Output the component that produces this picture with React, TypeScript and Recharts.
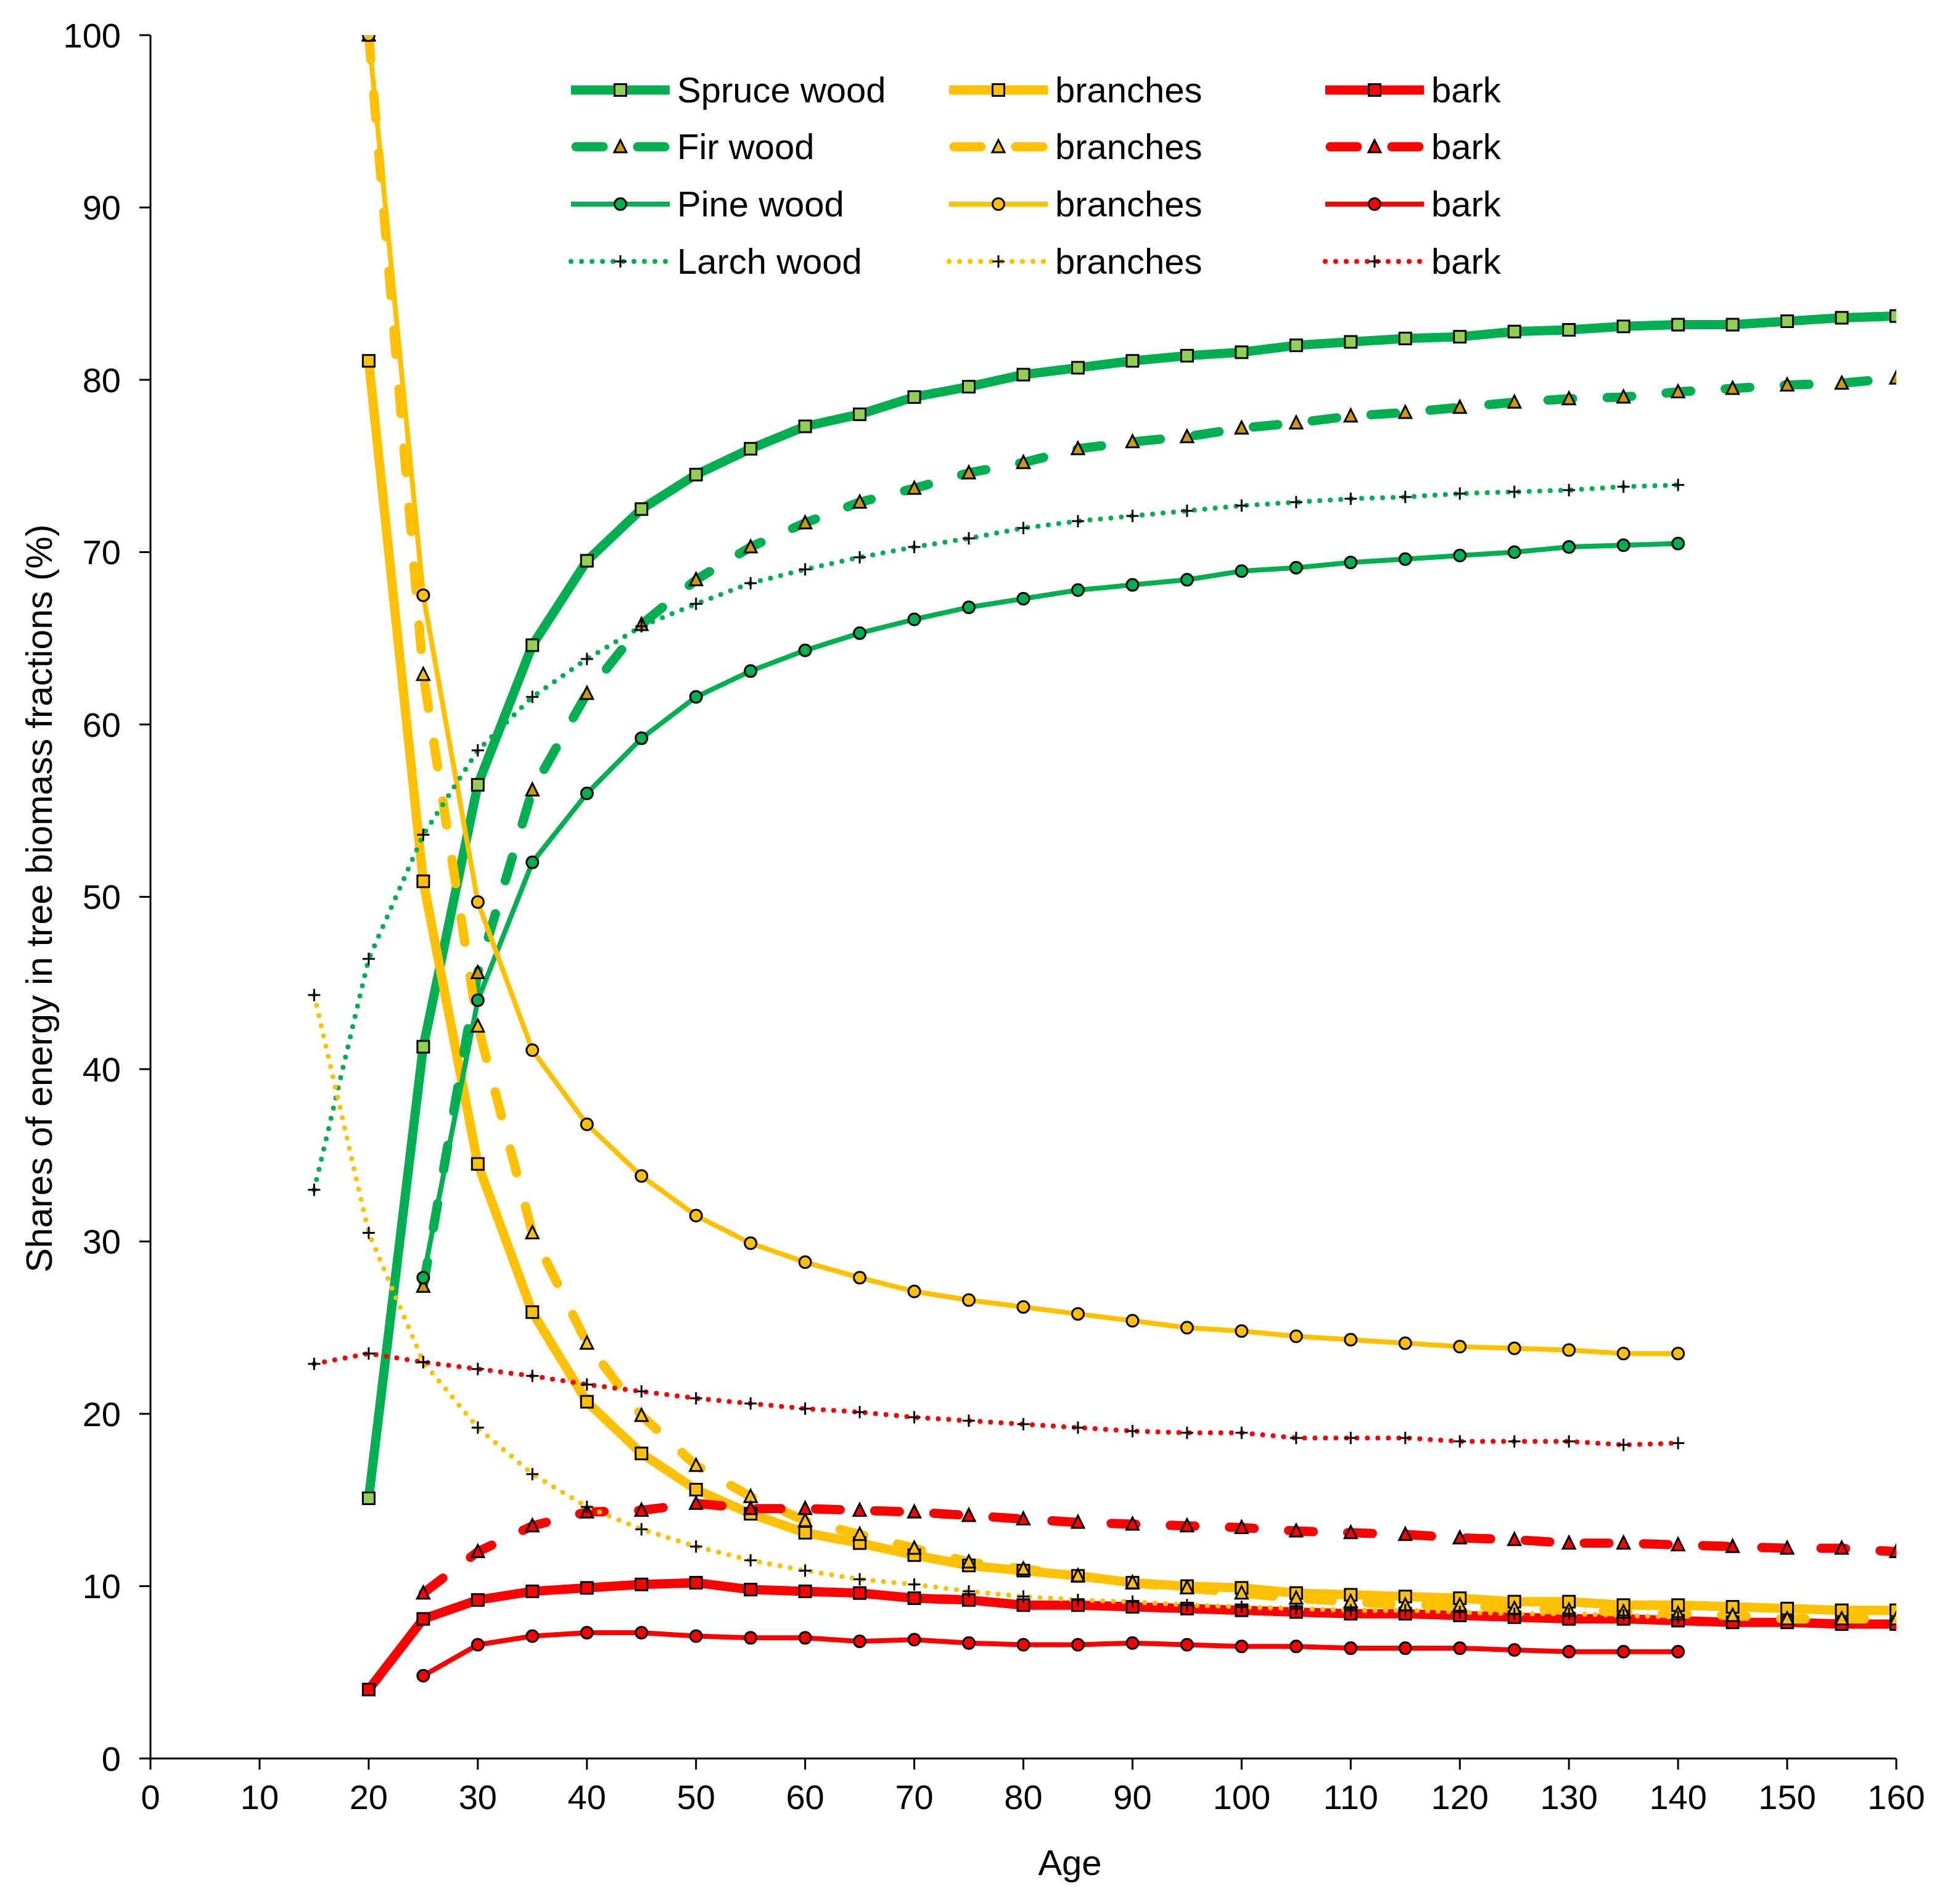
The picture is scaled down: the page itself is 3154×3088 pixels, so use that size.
import React from "react";
import { LineChart, Line, XAxis, YAxis, Legend } from "recharts";

// ages on the x axis (every 5 years)
const ages = [15, 20, 25, 30, 35, 40, 45, 50, 55, 60, 65, 70, 75, 80, 85, 90, 95, 100, 105, 110, 115, 120, 125, 130, 135, 140, 145, 150, 155, 160];
const xTicks = [0, 10, 20, 30, 40, 50, 60, 70, 80, 90, 100, 110, 120, 130, 140, 150, 160];
const yTicks = [0, 10, 20, 30, 40, 50, 60, 70, 80, 90, 100];

// wood (%), first value at the start age
const spruceWood = [15.1, 41.3, 56.5, 64.6, 69.5, 72.5, 74.5, 76.0, 77.3, 78.0, 79.0, 79.6, 80.3, 80.7, 81.1, 81.4, 81.6, 82.0, 82.2, 82.4, 82.5, 82.8, 82.9, 83.1, 83.2, 83.2, 83.4, 83.6, 83.7];
const firWood = [27.4, 45.6, 56.2, 61.8, 65.8, 68.4, 70.3, 71.7, 72.9, 73.7, 74.6, 75.2, 76.0, 76.4, 76.7, 77.2, 77.5, 77.9, 78.1, 78.4, 78.7, 78.9, 79.0, 79.3, 79.5, 79.7, 79.8, 80.1];
const pineWood = [27.9, 44.0, 52.0, 56.0, 59.2, 61.6, 63.1, 64.3, 65.3, 66.1, 66.8, 67.3, 67.8, 68.1, 68.4, 68.9, 69.1, 69.4, 69.6, 69.8, 70.0, 70.3, 70.4, 70.5];
const larchWood = [33.0, 46.4, 53.6, 58.5, 61.6, 63.8, 65.7, 67.0, 68.2, 69.0, 69.7, 70.3, 70.8, 71.4, 71.8, 72.1, 72.4, 72.7, 72.9, 73.1, 73.2, 73.4, 73.5, 73.6, 73.8, 73.9];

// branches (%)
const spruceBranches = [81.1, 50.9, 34.5, 25.9, 20.7, 17.7, 15.6, 14.2, 13.1, 12.5, 11.8, 11.2, 10.9, 10.6, 10.2, 10.0, 9.9, 9.6, 9.5, 9.4, 9.3, 9.1, 9.1, 8.9, 8.9, 8.8, 8.7, 8.6, 8.6];
const firBranches = [100, 62.9, 42.5, 30.5, 24.1, 19.9, 17.0, 15.2, 13.8, 13.0, 12.2, 11.4, 11.0, 10.6, 10.2, 9.9, 9.6, 9.3, 9.1, 8.9, 8.9, 8.7, 8.6, 8.5, 8.4, 8.3, 8.1, 8.1, 8.1];
const pineBranches = [100, 67.5, 49.7, 41.1, 36.8, 33.8, 31.5, 29.9, 28.8, 27.9, 27.1, 26.6, 26.2, 25.8, 25.4, 25.0, 24.8, 24.5, 24.3, 24.1, 23.9, 23.8, 23.7, 23.5, 23.5];
const larchBranches = [44.3, 30.5, 23.0, 19.2, 16.5, 14.6, 13.3, 12.3, 11.5, 10.9, 10.4, 10.1, 9.7, 9.4, 9.2, 9.1, 8.9, 8.8, 8.7, 8.6, 8.6, 8.5, 8.4, 8.4, 8.3, 8.2];

// bark (%)
const spruceBark = [4.0, 8.1, 9.2, 9.7, 9.9, 10.1, 10.2, 9.8, 9.7, 9.6, 9.3, 9.2, 8.9, 8.9, 8.8, 8.7, 8.6, 8.5, 8.4, 8.4, 8.3, 8.2, 8.1, 8.1, 8.0, 7.9, 7.9, 7.8, 7.8];
const firBark = [9.6, 12.0, 13.5, 14.3, 14.4, 14.8, 14.5, 14.5, 14.4, 14.3, 14.1, 13.9, 13.7, 13.6, 13.5, 13.4, 13.2, 13.1, 13.0, 12.8, 12.7, 12.5, 12.5, 12.4, 12.3, 12.2, 12.2, 12.0];
const pineBark = [4.8, 6.6, 7.1, 7.3, 7.3, 7.1, 7.0, 7.0, 6.8, 6.9, 6.7, 6.6, 6.6, 6.7, 6.6, 6.5, 6.5, 6.4, 6.4, 6.4, 6.3, 6.2, 6.2, 6.2];
const larchBark = [22.9, 23.5, 23.0, 22.6, 22.2, 21.7, 21.3, 20.9, 20.6, 20.3, 20.1, 19.8, 19.6, 19.4, 19.2, 19.0, 18.9, 18.9, 18.6, 18.6, 18.6, 18.4, 18.4, 18.4, 18.2, 18.3];

const legendLabels = [
  ["Spruce wood", "branches", "bark"],
  ["Fir wood", "branches", "bark"],
  ["Pine wood", "branches", "bark"],
  ["Larch wood", "branches", "bark"],
];

const GREEN = "#00B050";
const YELLOW = "#FFC000";
const RED = "#FF0000";
const FONT = "'Liberation Sans', Arial, sans-serif";

type Shape = "square" | "triangle" | "circle" | "plus";
type Dash = "solid" | "dash" | "thin" | "dot";

const toRows = (start: number, values: number[]) => {
  const i0 = ages.indexOf(start);
  return values.map((v, i) => ({ age: ages[i0 + i], v }));
};

// line styles per species row
const styleOf = (d: Dash) => {
  if (d === "solid") return { strokeWidth: 15 };
  if (d === "dash") return { strokeWidth: 15, strokeDasharray: "40 56", strokeLinecap: "round" as const };
  if (d === "thin") return { strokeWidth: 8 };
  return { strokeWidth: 8, strokeDasharray: "0 17", strokeLinecap: "round" as const };
};

function Marker({ cx, cy, shape, fill }: { cx: number; cy: number; shape: Shape; fill: string }) {
  if (cx == null || cy == null || isNaN(cx) || isNaN(cy)) return <g />;
  if (shape === "square")
    return <rect x={cx - 9.5} y={cy - 9.5} width={19} height={19} fill={fill} stroke="#000" strokeWidth={3} />;
  if (shape === "circle") return <circle cx={cx} cy={cy} r={9.5} fill={fill} stroke="#000" strokeWidth={3} />;
  if (shape === "triangle")
    return (
      <polygon
        points={`${cx},${cy - 11} ${cx - 10},${cy + 9} ${cx + 10},${cy + 9}`}
        fill={fill}
        stroke="#000"
        strokeWidth={3}
        strokeLinejoin="miter"
      />
    );
  return (
    <g stroke="#000" strokeWidth={3}>
      <line x1={cx - 10} y1={cy} x2={cx + 10} y2={cy} />
      <line x1={cx} y1={cy - 10} x2={cx} y2={cy + 10} />
    </g>
  );
}

interface SeriesDef {
  key: string;
  start: number;
  values: number[];
  color: string;
  dash: Dash;
  shape: Shape;
  fill: string;
}

// drawn species by species (wood, branches, bark)
const series: SeriesDef[] = [
  { key: "spruceWood", start: 20, values: spruceWood, color: GREEN, dash: "solid", shape: "square", fill: "#92D050" },
  { key: "spruceBranches", start: 20, values: spruceBranches, color: YELLOW, dash: "solid", shape: "square", fill: YELLOW },
  { key: "spruceBark", start: 20, values: spruceBark, color: RED, dash: "solid", shape: "square", fill: RED },
  { key: "firWood", start: 25, values: firWood, color: GREEN, dash: "dash", shape: "triangle", fill: "#CC9900" },
  { key: "firBranches", start: 20, values: firBranches, color: YELLOW, dash: "dash", shape: "triangle", fill: YELLOW },
  { key: "firBark", start: 25, values: firBark, color: RED, dash: "dash", shape: "triangle", fill: RED },
  { key: "pineWood", start: 25, values: pineWood, color: GREEN, dash: "thin", shape: "circle", fill: GREEN },
  { key: "pineBranches", start: 20, values: pineBranches, color: YELLOW, dash: "thin", shape: "circle", fill: YELLOW },
  { key: "pineBark", start: 25, values: pineBark, color: RED, dash: "thin", shape: "circle", fill: RED },
  { key: "larchWood", start: 15, values: larchWood, color: GREEN, dash: "dot", shape: "plus", fill: "#000" },
  { key: "larchBranches", start: 15, values: larchBranches, color: YELLOW, dash: "dot", shape: "plus", fill: "#000" },
  { key: "larchBark", start: 15, values: larchBark, color: RED, dash: "dot", shape: "plus", fill: "#000" },
];

const rowDash: Dash[] = ["solid", "dash", "thin", "dot"];
const rowShape: Shape[] = ["square", "triangle", "circle", "plus"];
const rowFill = [
  ["#92D050", YELLOW, RED],
  ["#CC9900", YELLOW, RED],
  [GREEN, YELLOW, RED],
  ["#000", "#000", "#000"],
];
const colColor = [GREEN, YELLOW, RED];

function LegendBox() {
  const rowY = [146, 238, 331, 424];
  const colX = [926, 1539, 2149];
  const len = 160;
  return (
    <svg width={3154} height={480} style={{ display: "block" }}>
      {legendLabels.map((row, r) =>
        row.map((label, c) => {
          const x1 = colX[c];
          const y = rowY[r];
          const mid = x1 + len / 2;
          const st = styleOf(rowDash[r]);
          let lineEl;
          if (rowDash[r] === "dash") {
            lineEl = (
              <g stroke={colColor[c]} strokeWidth={15} strokeLinecap="round">
                <line x1={x1 + 8} y1={y} x2={mid - 28} y2={y} />
                <line x1={mid + 28} y1={y} x2={x1 + len - 8} y2={y} />
              </g>
            );
          } else {
            lineEl = (
              <line
                x1={x1}
                y1={y}
                x2={x1 + len}
                y2={y}
                stroke={colColor[c]}
                strokeWidth={st.strokeWidth}
                strokeDasharray={st.strokeDasharray}
                strokeLinecap={rowDash[r] === "dot" ? "round" : "butt"}
              />
            );
          }
          return (
            <g key={`${r}-${c}`}>
              {lineEl}
              <Marker cx={mid} cy={y} shape={rowShape[r]} fill={rowFill[r][c]} />
              <text x={x1 + len + 12} y={y + 20} fontSize={58} fontFamily={FONT} fill="#000">
                {label}
              </text>
            </g>
          );
        })
      )}
    </svg>
  );
}

const AgeLabel = () => (
  <text x={1735} y={3041} textAnchor="middle" fontSize={58} fontFamily={FONT} fill="#000">
    Age
  </text>
);

const ShareLabel = () => (
  <text
    x={64}
    y={1457}
    textAnchor="middle"
    dominantBaseline="central"
    transform="rotate(-90 64 1457)"
    fontSize={59}
    fontFamily={FONT}
    fill="#000"
  >
    Shares of energy in tree biomass fractions (%)
  </text>
);

export default function App() {
  const axisStyle = { stroke: "#000", strokeWidth: 3 };
  return (
    <>
      <style>{`body{margin:0;background:#fff}`}</style>
      <LineChart width={3154} height={3088} margin={{ top: 57, right: 79, bottom: 0, left: 0 }}>
        <XAxis
          type="number"
          dataKey="age"
          domain={[0, 160]}
          ticks={xTicks}
          interval={0}
          height={236}
          axisLine={axisStyle}
          tickLine={axisStyle}
          tickSize={18}
          tickMargin={24}
          tick={{ fill: "#000", fontSize: 56, fontFamily: FONT }}
          label={<AgeLabel />}
          allowDataOverflow
        />
        <YAxis
          type="number"
          domain={[0, 100]}
          ticks={yTicks}
          interval={0}
          width={244}
          axisLine={axisStyle}
          tickLine={axisStyle}
          tickSize={18}
          tickMargin={30}
          tick={{ fill: "#000", fontSize: 56, fontFamily: FONT }}
          label={<ShareLabel />}
          allowDataOverflow
        />
        <Legend
          layout="vertical"
          verticalAlign="middle"
          align="center"
          content={() => <LegendBox />}
          wrapperStyle={{ left: 0, top: 0, width: 3154, height: 480 }}
        />
        {series.map((s) => {
          const st = styleOf(s.dash);
          return (
            <Line
              key={s.key}
              data={toRows(s.start, s.values)}
              dataKey="v"
              name={s.key}
              type="linear"
              stroke={s.color}
              strokeWidth={st.strokeWidth}
              strokeDasharray={st.strokeDasharray}
              strokeLinecap={st.strokeLinecap}
              strokeLinejoin="round"
              dot={(p: any) => <Marker key={`${s.key}-${p.index}`} cx={p.cx} cy={p.cy} shape={s.shape} fill={s.fill} />}
              activeDot={false}
              isAnimationActive={false}
              legendType="none"
            />
          );
        })}
      </LineChart>
    </>
  );
}
